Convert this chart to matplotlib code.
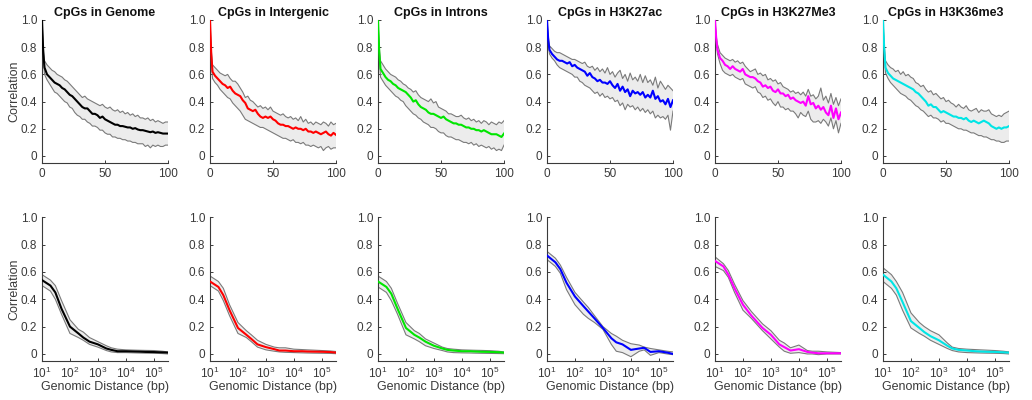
import numpy as np
import matplotlib
matplotlib.use("Agg")
import matplotlib.pyplot as plt
from matplotlib.ticker import FixedLocator, NullLocator, LogFormatterMathtext

plt.rcParams['font.family'] = ['Liberation Sans', 'DejaVu Sans']
plt.rcParams['mathtext.fontset'] = 'custom'
plt.rcParams['mathtext.rm'] = 'Liberation Sans'

TITLES = ['CpGs in Genome', 'CpGs in Intergenic', 'CpGs in Introns',
          'CpGs in H3K27ac', 'CpGs in H3K27Me3', 'CpGs in H3K36me3']
COLORS = ['#000000', '#ff0000', '#00e600', '#0000ff', '#ff00ff', '#00e5e5']

# top row: correlation vs distance (bp), linear axis
TOP_X = [0, 1, 2] + list(range(4, 101, 2))

genome_mean = [1.0, 0.76, 0.65,
               0.60, 0.58, 0.56, 0.54, 0.53, 0.52, 0.50, 0.49, 0.47, 0.45,
               0.44, 0.42, 0.40, 0.38, 0.36, 0.35, 0.35, 0.33, 0.31, 0.31,
               0.30, 0.28, 0.29, 0.27, 0.26, 0.25, 0.24, 0.23, 0.23, 0.22,
               0.22, 0.215, 0.21, 0.21, 0.20, 0.205, 0.195, 0.19, 0.19, 0.185,
               0.18, 0.175, 0.18, 0.17, 0.175, 0.17, 0.165, 0.165, 0.165]
genome_up = [1.0, 0.80, 0.70,
             0.67, 0.65, 0.63, 0.62, 0.60, 0.59, 0.58, 0.56, 0.55, 0.53,
             0.51, 0.49, 0.47, 0.45, 0.43, 0.44, 0.42, 0.41, 0.40, 0.39,
             0.38, 0.37, 0.38, 0.36, 0.35, 0.36, 0.34, 0.33, 0.34, 0.32,
             0.33, 0.31, 0.32, 0.30, 0.31, 0.29, 0.30, 0.28, 0.28, 0.27,
             0.28, 0.26, 0.27, 0.25, 0.26, 0.25, 0.24, 0.25, 0.25]
genome_lo = [1.0, 0.72, 0.60,
             0.56, 0.53, 0.50, 0.47, 0.46, 0.44, 0.42, 0.40, 0.39, 0.36,
             0.35, 0.32, 0.30, 0.29, 0.27, 0.27, 0.25, 0.24, 0.22, 0.22,
             0.21, 0.19, 0.19, 0.17, 0.16, 0.16, 0.14, 0.14, 0.13, 0.13,
             0.12, 0.12, 0.11, 0.11, 0.10, 0.10, 0.09, 0.09, 0.09, 0.07,
             0.08, 0.06, 0.08, 0.07, 0.08, 0.07, 0.07, 0.08, 0.08]

intergenic_mean = [1.0, 0.75, 0.62,
                   0.59, 0.57, 0.55, 0.53, 0.52, 0.50, 0.51, 0.48, 0.46, 0.45,
                   0.44, 0.41, 0.39, 0.35, 0.34, 0.33, 0.34, 0.31, 0.29, 0.28,
                   0.29, 0.28, 0.29, 0.27, 0.26, 0.24, 0.23, 0.23, 0.22, 0.22,
                   0.21, 0.20, 0.21, 0.20, 0.20, 0.19, 0.20, 0.18, 0.18, 0.17,
                   0.18, 0.17, 0.16, 0.17, 0.18, 0.16, 0.15, 0.17, 0.155]
intergenic_up = [1.0, 0.78, 0.67,
                 0.65, 0.63, 0.61, 0.60, 0.59, 0.60, 0.57, 0.55, 0.55, 0.53,
                 0.50, 0.47, 0.43, 0.44, 0.41, 0.40, 0.38, 0.36, 0.37, 0.35,
                 0.36, 0.34, 0.36, 0.33, 0.32, 0.31, 0.30, 0.31, 0.29, 0.28,
                 0.29, 0.27, 0.28, 0.26, 0.29, 0.25, 0.27, 0.24, 0.25, 0.23,
                 0.25, 0.24, 0.23, 0.25, 0.24, 0.22, 0.25, 0.23, 0.24]
intergenic_lo = [1.0, 0.70, 0.57,
                 0.54, 0.52, 0.49, 0.47, 0.45, 0.43, 0.42, 0.39, 0.37, 0.35,
                 0.33, 0.30, 0.27, 0.26, 0.25, 0.24, 0.23, 0.22, 0.21, 0.21,
                 0.20, 0.19, 0.18, 0.17, 0.16, 0.15, 0.14, 0.13, 0.13, 0.12,
                 0.11, 0.12, 0.10, 0.10, 0.09, 0.10, 0.08, 0.08, 0.07, 0.08,
                 0.07, 0.06, 0.07, 0.04, 0.06, 0.07, 0.05, 0.06, 0.06]

introns_mean = [1.0, 0.76, 0.64,
                0.61, 0.58, 0.56, 0.55, 0.53, 0.52, 0.50, 0.49, 0.48, 0.47,
                0.45, 0.43, 0.40, 0.41, 0.38, 0.36, 0.35, 0.34, 0.32, 0.31,
                0.31, 0.30, 0.29, 0.28, 0.29, 0.27, 0.26, 0.25, 0.24, 0.24,
                0.23, 0.23, 0.22, 0.21, 0.21, 0.20, 0.20, 0.19, 0.19, 0.18,
                0.19, 0.18, 0.17, 0.16, 0.16, 0.16, 0.15, 0.14, 0.165]
introns_up = [1.0, 0.80, 0.70,
              0.67, 0.64, 0.62, 0.60, 0.59, 0.58, 0.56, 0.55, 0.53, 0.52,
              0.50, 0.49, 0.47, 0.48, 0.45, 0.43, 0.42, 0.41, 0.40, 0.42,
              0.39, 0.40, 0.36, 0.35, 0.34, 0.33, 0.31, 0.31, 0.30, 0.29,
              0.29, 0.30, 0.28, 0.27, 0.28, 0.26, 0.27, 0.25, 0.26, 0.24,
              0.26, 0.25, 0.23, 0.25, 0.24, 0.23, 0.25, 0.24, 0.26]
introns_lo = [1.0, 0.72, 0.58,
              0.55, 0.52, 0.50, 0.48, 0.46, 0.44, 0.43, 0.41, 0.40, 0.37,
              0.35, 0.33, 0.31, 0.30, 0.28, 0.27, 0.25, 0.24, 0.23, 0.21,
              0.21, 0.20, 0.18, 0.17, 0.17, 0.15, 0.14, 0.14, 0.13, 0.12,
              0.12, 0.11, 0.10, 0.10, 0.09, 0.10, 0.08, 0.09, 0.07, 0.08,
              0.07, 0.06, 0.07, 0.05, 0.06, 0.04, 0.05, 0.04, 0.08]

h3k27ac_mean = [1.0, 0.85, 0.78,
                0.75, 0.73, 0.71, 0.70, 0.70, 0.69, 0.68, 0.69, 0.66, 0.67,
                0.65, 0.64, 0.63, 0.62, 0.59, 0.61, 0.58, 0.57, 0.55, 0.56,
                0.54, 0.54, 0.53, 0.55, 0.52, 0.50, 0.53, 0.48, 0.51, 0.47,
                0.49, 0.44, 0.48, 0.46, 0.47, 0.45, 0.47, 0.43, 0.45, 0.43,
                0.48, 0.42, 0.44, 0.40, 0.41, 0.38, 0.42, 0.36, 0.41]
h3k27ac_up = [1.0, 0.88, 0.81,
              0.79, 0.77, 0.76, 0.76, 0.75, 0.74, 0.73, 0.72, 0.71, 0.71,
              0.70, 0.69, 0.68, 0.69, 0.66, 0.65, 0.66, 0.63, 0.65, 0.62,
              0.64, 0.61, 0.65, 0.60, 0.62, 0.58, 0.61, 0.63, 0.57, 0.60,
              0.55, 0.61, 0.56, 0.58, 0.55, 0.60, 0.54, 0.59, 0.54, 0.56,
              0.52, 0.58, 0.50, 0.55, 0.52, 0.49, 0.52, 0.50, 0.48]
h3k27ac_lo = [1.0, 0.82, 0.75,
              0.72, 0.70, 0.67, 0.65, 0.64, 0.63, 0.62, 0.61, 0.60, 0.58,
              0.58, 0.55, 0.54, 0.52, 0.51, 0.50, 0.48, 0.46, 0.47, 0.44,
              0.46, 0.43, 0.44, 0.42, 0.43, 0.40, 0.41, 0.37, 0.39, 0.34,
              0.38, 0.36, 0.37, 0.34, 0.36, 0.33, 0.35, 0.32, 0.34, 0.31,
              0.33, 0.28, 0.30, 0.28, 0.29, 0.27, 0.30, 0.19, 0.33]

h3k27me3_mean = [1.0, 0.86, 0.78,
                 0.72, 0.70, 0.67, 0.66, 0.64, 0.66, 0.64, 0.63, 0.62, 0.64,
                 0.60, 0.59, 0.58, 0.58, 0.57, 0.55, 0.54, 0.51, 0.52, 0.50,
                 0.51, 0.48, 0.47, 0.49, 0.46, 0.46, 0.44, 0.45, 0.42, 0.43,
                 0.41, 0.40, 0.39, 0.40, 0.37, 0.44, 0.38, 0.39, 0.35, 0.37,
                 0.34, 0.36, 0.32, 0.30, 0.37, 0.28, 0.35, 0.27, 0.32]
h3k27me3_up = [1.0, 0.88, 0.82,
               0.76, 0.74, 0.72, 0.71, 0.70, 0.71, 0.69, 0.70, 0.68, 0.69,
               0.66, 0.64, 0.62, 0.63, 0.64, 0.60, 0.61, 0.59, 0.60, 0.56,
               0.57, 0.55, 0.56, 0.53, 0.54, 0.51, 0.50, 0.49, 0.47, 0.48,
               0.46, 0.47, 0.45, 0.47, 0.44, 0.49, 0.44, 0.45, 0.42, 0.44,
               0.50, 0.41, 0.44, 0.39, 0.46, 0.38, 0.43, 0.37, 0.42]
h3k27me3_lo = [1.0, 0.84, 0.75,
               0.68, 0.63, 0.61, 0.60, 0.59, 0.60, 0.58, 0.57, 0.56, 0.57,
               0.53, 0.52, 0.51, 0.50, 0.51, 0.47, 0.46, 0.43, 0.44, 0.41,
               0.42, 0.39, 0.37, 0.40, 0.36, 0.36, 0.34, 0.35, 0.33, 0.33,
               0.31, 0.28, 0.32, 0.30, 0.29, 0.33, 0.27, 0.25, 0.25, 0.26,
               0.24, 0.27, 0.25, 0.22, 0.28, 0.20, 0.26, 0.17, 0.24]

h3k36me3_mean = [1.0, 0.78, 0.65,
                 0.61, 0.59, 0.57, 0.56, 0.55, 0.54, 0.53, 0.52, 0.51, 0.50,
                 0.49, 0.47, 0.46, 0.44, 0.42, 0.40, 0.37, 0.38, 0.36, 0.36,
                 0.34, 0.32, 0.33, 0.32, 0.31, 0.30, 0.29, 0.29, 0.28, 0.28,
                 0.27, 0.28, 0.26, 0.25, 0.26, 0.25, 0.24, 0.25, 0.26, 0.25,
                 0.24, 0.22, 0.21, 0.20, 0.21, 0.20, 0.21, 0.21, 0.22]
h3k36me3_up = [1.0, 0.82, 0.70,
               0.67, 0.65, 0.64, 0.62, 0.63, 0.60, 0.62, 0.59, 0.60, 0.58,
               0.57, 0.54, 0.53, 0.51, 0.52, 0.49, 0.47, 0.48, 0.45, 0.46,
               0.44, 0.42, 0.43, 0.40, 0.41, 0.39, 0.38, 0.36, 0.38, 0.36,
               0.35, 0.37, 0.34, 0.33, 0.34, 0.35, 0.32, 0.34, 0.33, 0.33,
               0.34, 0.31, 0.30, 0.29, 0.30, 0.29, 0.31, 0.32, 0.33]
h3k36me3_lo = [1.0, 0.74, 0.61,
               0.57, 0.54, 0.52, 0.50, 0.48, 0.46, 0.45, 0.44, 0.42, 0.41,
               0.39, 0.37, 0.36, 0.34, 0.33, 0.31, 0.29, 0.30, 0.28, 0.28,
               0.27, 0.25, 0.26, 0.24, 0.24, 0.23, 0.22, 0.21, 0.20, 0.20,
               0.19, 0.19, 0.18, 0.17, 0.17, 0.16, 0.15, 0.15, 0.14, 0.14,
               0.13, 0.12, 0.12, 0.11, 0.11, 0.10, 0.10, 0.11, 0.11]

# bottom row: genomic distance on log axis
BOT_X = [10, 20, 30, 50, 100, 200, 300, 500, 1000, 2000, 3000, 5000,
         10000, 20000, 30000, 50000, 100000, 200000, 320000]

genome_log_mean = [0.54, 0.50, 0.45, 0.33, 0.20, 0.15, 0.12, 0.09, 0.07, 0.04,
                   0.03, 0.02, 0.02, 0.018, 0.017, 0.015, 0.014, 0.012, 0.01]
genome_log_up = [0.58, 0.54, 0.50, 0.39, 0.25, 0.18, 0.16, 0.12, 0.09, 0.06,
                 0.045, 0.035, 0.03, 0.028, 0.027, 0.026, 0.025, 0.02, 0.015]
genome_log_lo = [0.50, 0.46, 0.40, 0.29, 0.15, 0.12, 0.10, 0.07, 0.05, 0.025,
                 0.015, 0.01, 0.01, 0.008, 0.007, 0.006, 0.005, 0.003, 0.0]

intergenic_log_mean = [0.53, 0.49, 0.43, 0.32, 0.19, 0.14, 0.11, 0.07, 0.05, 0.035,
                       0.025, 0.025, 0.02, 0.02, 0.018, 0.017, 0.016, 0.014, 0.01]
intergenic_log_up = [0.57, 0.53, 0.48, 0.36, 0.23, 0.17, 0.14, 0.10, 0.07, 0.05,
                     0.045, 0.045, 0.035, 0.032, 0.03, 0.028, 0.025, 0.022, 0.018]
intergenic_log_lo = [0.50, 0.46, 0.39, 0.28, 0.15, 0.12, 0.09, 0.05, 0.03, 0.02,
                     0.015, 0.012, 0.01, 0.008, 0.007, 0.006, 0.005, 0.004, 0.002]

introns_log_mean = [0.53, 0.49, 0.44, 0.33, 0.19, 0.14, 0.12, 0.09, 0.06, 0.04,
                    0.03, 0.025, 0.02, 0.02, 0.018, 0.016, 0.015, 0.013, 0.01]
introns_log_up = [0.57, 0.53, 0.48, 0.37, 0.23, 0.17, 0.15, 0.11, 0.08, 0.05,
                  0.04, 0.035, 0.03, 0.028, 0.027, 0.026, 0.024, 0.02, 0.015]
introns_log_lo = [0.49, 0.45, 0.39, 0.29, 0.14, 0.11, 0.09, 0.06, 0.04, 0.025,
                  0.015, 0.01, 0.008, 0.007, 0.006, 0.005, 0.004, 0.003, 0.002]

h3k27ac_log_mean = [0.72, 0.67, 0.62, 0.52, 0.42, 0.35, 0.31, 0.26, 0.19, 0.115,
                    0.085, 0.07, 0.03, 0.04, 0.045, 0.015, 0.02, 0.01, 0.0]
h3k27ac_log_up = [0.75, 0.70, 0.65, 0.56, 0.45, 0.38, 0.34, 0.28, 0.20, 0.15,
                  0.13, 0.10, 0.075, 0.065, 0.05, 0.04, 0.03, 0.02, 0.015]
h3k27ac_log_lo = [0.69, 0.64, 0.59, 0.47, 0.36, 0.29, 0.26, 0.23, 0.18, 0.07,
                  0.02, 0.01, -0.02, 0.02, 0.03, -0.01, 0.01, 0.0, -0.005]

h3k27me3_log_mean = [0.68, 0.64, 0.58, 0.48, 0.36, 0.28, 0.24, 0.19, 0.14, 0.07,
                     0.05, 0.025, 0.035, 0.015, 0.01, 0.005, 0.005, 0.005, 0.005]
h3k27me3_log_up = [0.71, 0.66, 0.61, 0.51, 0.39, 0.31, 0.27, 0.22, 0.17, 0.10,
                   0.08, 0.045, 0.065, 0.025, 0.02, 0.02, 0.015, 0.012, 0.01]
h3k27me3_log_lo = [0.64, 0.61, 0.56, 0.45, 0.32, 0.26, 0.22, 0.17, 0.11, 0.05,
                   0.02, 0.005, 0.01, 0.0, 0.0, -0.005, 0.0, 0.0, 0.0]

h3k36me3_log_mean = [0.58, 0.53, 0.48, 0.38, 0.24, 0.19, 0.16, 0.13, 0.10, 0.06,
                     0.04, 0.03, 0.025, 0.02, 0.018, 0.016, 0.015, 0.012, 0.01]
h3k36me3_log_up = [0.63, 0.58, 0.53, 0.45, 0.30, 0.23, 0.20, 0.17, 0.14, 0.08,
                   0.05, 0.04, 0.035, 0.032, 0.03, 0.028, 0.025, 0.02, 0.015]
h3k36me3_log_lo = [0.53, 0.48, 0.43, 0.32, 0.19, 0.15, 0.13, 0.10, 0.07, 0.04,
                   0.025, 0.015, 0.01, 0.008, 0.007, 0.006, 0.005, 0.003, 0.0]

top_series = [
    (genome_mean, genome_lo, genome_up),
    (intergenic_mean, intergenic_lo, intergenic_up),
    (introns_mean, introns_lo, introns_up),
    (h3k27ac_mean, h3k27ac_lo, h3k27ac_up),
    (h3k27me3_mean, h3k27me3_lo, h3k27me3_up),
    (h3k36me3_mean, h3k36me3_lo, h3k36me3_up),
]
bottom_series = [
    (genome_log_mean, genome_log_lo, genome_log_up),
    (intergenic_log_mean, intergenic_log_lo, intergenic_log_up),
    (introns_log_mean, introns_log_lo, introns_log_up),
    (h3k27ac_log_mean, h3k27ac_log_lo, h3k27ac_log_up),
    (h3k27me3_log_mean, h3k27me3_log_lo, h3k27me3_log_up),
    (h3k36me3_log_mean, h3k36me3_log_lo, h3k36me3_log_up),
]

AX_COLOR = '#3a3a3a'
Y_TICKS = [0, 0.2, 0.4, 0.6, 0.8, 1.0]
Y_LABELS = ['0', '0.2', '0.4', '0.6', '0.8', '1.0']


def style_axes(ax):
    for side in ['top', 'right']:
        ax.spines[side].set_visible(False)
    for side in ['left', 'bottom']:
        ax.spines[side].set_color(AX_COLOR)
        ax.spines[side].set_linewidth(0.8)
    ax.tick_params(direction='in', length=2.5, width=0.7, colors=AX_COLOR,
                   labelsize=8.5, labelcolor=AX_COLOR)
    ax.set_ylim(-0.05, 1.0)
    ax.set_yticks(Y_TICKS)
    ax.set_yticklabels(Y_LABELS)


def draw_band(ax, x, mean, lo, up, color):
    ax.fill_between(x, lo, up, facecolor='#ececec', edgecolor='none', zorder=1)
    ax.plot(x, lo, color='#7a7a7a', lw=0.8, zorder=2)
    ax.plot(x, up, color='#7a7a7a', lw=0.8, zorder=2)
    ax.plot(x, mean, color=color, lw=1.5, zorder=3)


fig = plt.figure(figsize=(10.32, 4.0), dpi=100)
lefts = [42, 210, 378, 547, 715, 883]
W = 126 / 1032

for i in range(6):
    ax = fig.add_axes([lefts[i] / 1032, 0.593, W, 0.357])
    m, lo, up = top_series[i]
    draw_band(ax, TOP_X, m, lo, up, COLORS[i])
    style_axes(ax)
    ax.set_xlim(0, 100)
    ax.set_xticks([0, 50, 100])
    ax.set_title(TITLES[i], fontsize=9, fontweight='bold', pad=3, color='#111111')
    if i == 0:
        ax.set_ylabel('Correlation', fontsize=9, color=AX_COLOR, labelpad=0)

    ax2 = fig.add_axes([lefts[i] / 1032, 0.098, W, 0.359])
    m, lo, up = bottom_series[i]
    draw_band(ax2, BOT_X, m, lo, up, COLORS[i])
    ax2.set_xscale('log')
    style_axes(ax2)
    ax2.set_xlim(min(BOT_X), max(BOT_X))
    ax2.xaxis.set_major_locator(FixedLocator([1e1, 1e2, 1e3, 1e4, 1e5]))
    ax2.xaxis.set_major_formatter(LogFormatterMathtext())
    ax2.xaxis.set_minor_locator(NullLocator())
    ax2.set_xlabel('Genomic Distance (bp)', fontsize=9, color=AX_COLOR, labelpad=0)
    if i == 0:
        ax2.set_ylabel('Correlation', fontsize=9, color=AX_COLOR, labelpad=0)

fig.savefig('out.png', dpi=100)
